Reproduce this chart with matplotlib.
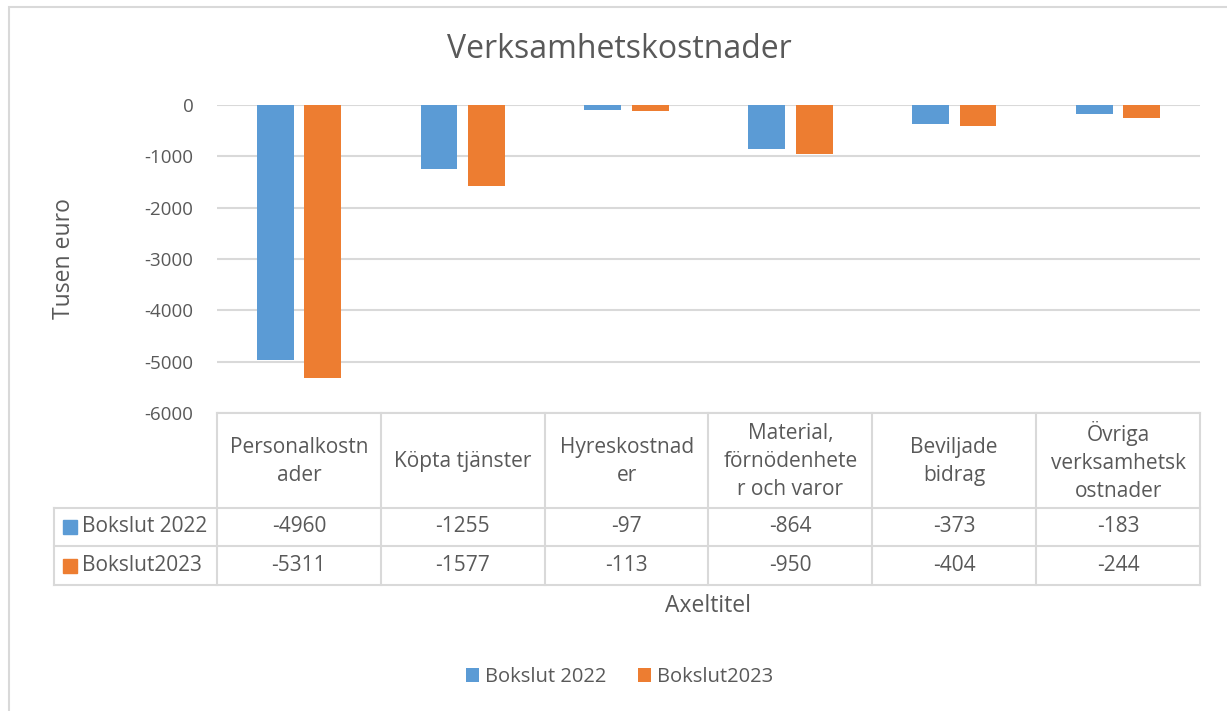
import numpy as np
import matplotlib.pyplot as plt
from matplotlib.lines import Line2D
from matplotlib.patches import Rectangle
from matplotlib import transforms

categories = ["Personalkostn\nader", "Köpta tjänster", "Hyreskostnad\ner",
              "Material,\nförnödenhete\nr och varor", "Beviljade\nbidrag",
              "Övriga\nverksamhetsk\nostnader"]
series_names = ["Bokslut 2022", "Bokslut2023"]
bokslut_2022 = [-4960, -1255, -97, -864, -373, -183]
bokslut_2023 = [-5311, -1577, -113, -950, -404, -244]
colors = ["#5B9BD5", "#ED7D31"]

plt.rcParams["font.family"] = ["Open Sans", "DejaVu Sans"]
plt.rcParams["axes.unicode_minus"] = False
txt = "#595959"
grid = "#D9D9D9"

W, H = 1227, 711
fig = plt.figure(figsize=(W / 100, H / 100), dpi=100)


def fx(px):
    return px / W


def fy(py):
    return 1 - py / H


# chart area frame (only top/left visible in the crop)
fig.patches.append(Rectangle((fx(9), fy(1000)), fx(1500), fy(7) - fy(1000),
                             transform=fig.transFigure, fill=False,
                             edgecolor=grid, linewidth=1.5))

ax_l, ax_r, ax_t, ax_b = 217, 1200, 105, 413
ax = fig.add_axes([fx(ax_l), fy(ax_b), fx(ax_r - ax_l), fy(ax_t) - fy(ax_b)])

x = np.arange(len(categories))
w = 0.225
ax.bar(x - 0.145, bokslut_2022, w, color=colors[0], label=series_names[0], zorder=3)
ax.bar(x + 0.145, bokslut_2023, w, color=colors[1], label=series_names[1], zorder=3)

ax.set_xlim(-0.5, len(categories) - 0.5)
ax.set_ylim(-6000, 0)
ax.set_yticks(np.arange(-6000, 1, 1000))
ax.yaxis.grid(True, color=grid, linewidth=1.5, zorder=0)
ax.set_xticks([])
for s in ax.spines.values():
    s.set_visible(False)
ax.tick_params(axis="y", length=0, labelsize=13.5, labelcolor=txt, pad=17)
ax.set_ylabel("Tusen euro", fontsize=16.5, color=txt)
ax.yaxis.set_label_coords(fx(76 - ax_l) / fx(ax_r - ax_l), 0.5)

fig.text(0.505, fy(50), "Verksamhetskostnader", ha="center", va="center",
         fontsize=23, color=txt)

# data table under the axes
tr = transforms.blended_transform_factory(ax.transData, fig.transFigure)
rows_y = [413, 508, 546, 585]
lw = 1.5
n = len(categories)
# horizontal lines
ax.add_line(Line2D([-0.5, n - 0.5], [fy(rows_y[0])] * 2, transform=tr,
                   color=grid, lw=lw, clip_on=False))
for py in rows_y[1:]:
    fig.lines.append(Line2D([fx(54), fx(ax_r)], [fy(py)] * 2,
                            transform=fig.transFigure, color=grid, lw=lw))
# vertical lines
for i in range(n + 1):
    ax.add_line(Line2D([i - 0.5, i - 0.5], [fy(rows_y[0]), fy(rows_y[3])],
                       transform=tr, color=grid, lw=lw, clip_on=False))
fig.lines.append(Line2D([fx(54), fx(54)], [fy(rows_y[1]), fy(rows_y[3])],
                        transform=fig.transFigure, color=grid, lw=lw))

for i, cat in enumerate(categories):
    ax.text(i, fy((rows_y[0] + rows_y[1]) / 2 + 1), cat, transform=tr,
            ha="center", va="center", fontsize=15, color=txt,
            linespacing=1.45, clip_on=False)
for r, (name, vals) in enumerate(zip(series_names, [bokslut_2022, bokslut_2023])):
    cy = fy((rows_y[r + 1] + rows_y[r + 2]) / 2)
    fig.patches.append(Rectangle((fx(63), cy - 7 / H), fx(14), 14 / H,
                                 transform=fig.transFigure,
                                 color=colors[r]))
    fig.text(fx(82), cy, name, ha="left", va="center", fontsize=15, color=txt)
    for i, v in enumerate(vals):
        ax.text(i, cy, str(v), transform=tr, ha="center", va="center",
                fontsize=15, color=txt, clip_on=False)

fig.text(fx(708), fy(606), "Axeltitel", ha="center", va="center",
         fontsize=16.5, color=txt)

fig.legend(loc="center", bbox_to_anchor=(0.505, fy(677)), ncol=2, frameon=False,
           fontsize=14.5, labelcolor=txt, handlelength=0.65, handleheight=0.65,
           handletextpad=0.3, columnspacing=1.6)

fig.savefig("out.png", dpi=100)
